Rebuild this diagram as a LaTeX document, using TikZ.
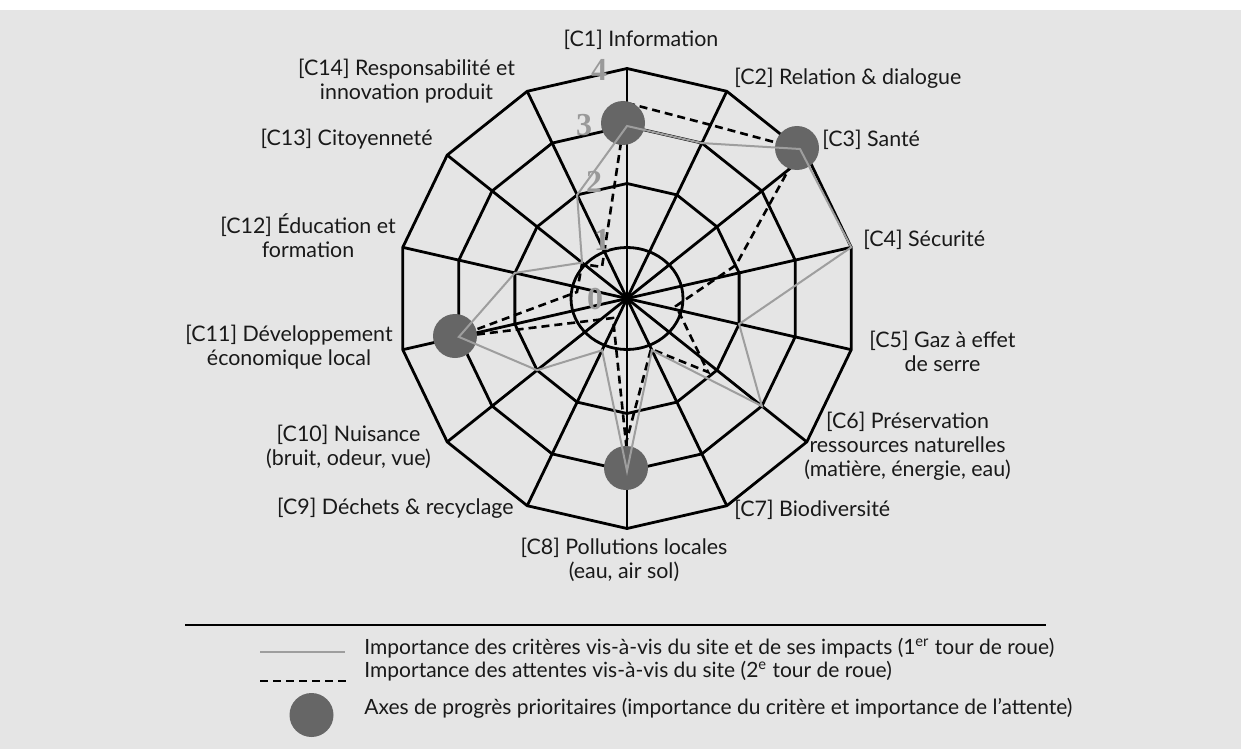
\documentclass[tikz,border=0pt]{standalone}
\usepackage{fontspec}
\setmainfont{Lato}
\newfontfamily\numfont{Liberation Serif}
\usetikzlibrary{calc}
\definecolor{bgcol}{gray}{0.9}
\definecolor{seriecol}{gray}{0.62}
\definecolor{dotcol}{gray}{0.4}
\definecolor{numcol}{gray}{0.6}
\definecolor{txtcol}{gray}{0.1}
\tikzset{
  gridline/.style={line width=1.4pt, black, line join=miter},
  serieline/.style={line width=1pt, seriecol, line join=miter},
  attenteline/.style={line width=1.3pt, black, dash pattern=on 4pt off 2.5pt},
  prio/.style={circle, fill=dotcol, inner sep=0pt, minimum size=22pt},
  lbl/.style={font=\fontsize{10.7pt}{12pt}\selectfont, text=txtcol, inner sep=0pt, align=center},
  leg/.style={font=\fontsize{10.5pt}{12pt}\selectfont, text=txtcol, inner sep=0pt, anchor=west},
  numlbl/.style={font=\numfont\bfseries\fontsize{16pt}{16pt}\selectfont, text=numcol, inner sep=0pt}
}
\begin{document}
\begin{tikzpicture}[x=0.5pt,y=-0.5pt]
\fill[white] (0,0) rectangle (1241,749);
\fill[bgcol] (0,10) rectangle (1241,749);
\useasboundingbox (0,0) rectangle (1241,749);
\coordinate (O) at (627,298.5);
% grid vertices
\foreach \k in {1,...,14}{
  \pgfmathsetmacro\a{(\k-1)*360/14-90}
  \coordinate (v2-\k) at ($(O)+(\a:115)$);
  \coordinate (v3-\k) at ($(O)+(\a:172.5)$);
  \coordinate (v4-\k) at ($(O)+(\a:230)$);
}
\foreach \r in {2,3,4}{
  \draw[gridline] (v\r-1) -- (v\r-2) -- (v\r-3) -- (v\r-4) -- (v\r-5) -- (v\r-6) -- (v\r-7) -- (v\r-8) -- (v\r-9) -- (v\r-10) -- (v\r-11) -- (v\r-12) -- (v\r-13) -- (v\r-14) -- cycle;
}
\draw[gridline] (O) ellipse [x radius=28pt, y radius=25.5pt];
\foreach \k in {1,...,14}{ \draw[gridline] (O) -- (v4-\k); }
% second round (dashed)
\coordinate (d1) at (627,103);
\coordinate (d2) at (711,125);
\coordinate (d3) at (800,149);
\coordinate (d4) at (736,265);
\coordinate (d5) at (676,306);
\coordinate (d6) at (708,372);
\coordinate (d7) at (651,349);
\coordinate (d8) at (626,443);
\coordinate (d9) at (613,318);
\coordinate (d11) at (456,337);
\coordinate (d12) at (577,292);
\coordinate (d13) at (582,264);
\coordinate (d14) at (602,267);
\draw[attenteline] (d1) -- (d2) -- (d3) -- (d4) -- (d5) -- (d6) -- (d7) -- (d8) -- (d9) -- (d11) -- (d12) -- (d13) -- (d14) -- cycle;
% priority circles
\node[prio] (p1) at (623,123) {};
\node[prio] (p3) at (797,148) {};
\node[prio] (p8) at (626,468) {};
\node[prio] (p11) at (455,336) {};
% first round (grey)
\foreach \k/\v in {1/3,2/3,3/4,4/4,5/2,6/3,7/1,8/3,9/1,10/2,11/3,12/2,13/1,14/2}{
  \pgfmathsetmacro\a{(\k-1)*360/14-90}
  \coordinate (g\k) at ($(O)+(\a:\v*57.5)$);
}
\coordinate (g3) at (800,149);
\draw[serieline] (g1) -- (g2) -- (g3) -- (g4) -- (g5) -- (g6) -- (g7) -- (g8) -- (g9) -- (g10) -- (g11) -- (g12) -- (g13) -- (g14) -- cycle;
% scale numbers
\node[numlbl] (n4) at (599,70) {4};
\node[numlbl] (n3) at (584,125) {3};
\node[numlbl] (n2) at (594,182) {2};
\node[numlbl] (n1) at (602,240) {1};
\node[numlbl] (n0) at (595,299) {0};
% labels
\node[lbl] (l1) at (641,40) {[C1] Information};
\node[lbl, anchor=west] (l2) at (734,78) {[C2] Relation \& dialogue};
\node[lbl, anchor=west] (l3) at (822,140) {[C3] Santé};
\node[lbl, anchor=west] (l4) at (863,240) {[C4] Sécurité};
\node[lbl] (l5) at (942.5,351) {[C5] Gaz à effet\\de serre};
\node[lbl] (l6) at (907.5,446.7) {[C6] Préservation\\ressources naturelles\\(matière, énergie, eau)};
\node[lbl, anchor=west] (l7) at (734,510) {[C7] Biodiversité};
\node[lbl] (l8) at (624,560) {[C8] Pollutions locales\\(eau, air sol)};
\node[lbl, anchor=east] (l9) at (514,508.3) {[C9] Déchets \& recyclage};
\node[lbl] (l10) at (348.5,447) {[C10] Nuisance\\(bruit, odeur, vue)};
\node[lbl] (l11) at (289,347.5) {[C11] Développement\\économique local};
\node[lbl] (l12) at (308,236) {[C12] Éducation et\\formation};
\node[lbl, anchor=east] (l13) at (433,139.3) {[C13] Citoyenneté};
\node[lbl] (l14) at (406.5,81.5) {[C14] Responsabilité et\\innovation produit};
% legend
\coordinate (la) at (185,625);
\coordinate (lb) at (1046,625);
\draw[gridline] (la) -- (lb);
\coordinate (sa1) at (260,652);
\coordinate (sb1) at (345,652);
\draw[serieline] (sa1) -- (sb1);
\coordinate (sa2) at (260,681);
\coordinate (sb2) at (347,681);
\draw[attenteline] (sa2) -- (sb2);
\node[prio] (sp) at (311.5,715) {};
\node[leg] (t1) at (364,648) {Importance des critères vis-à-vis du site et de ses impacts (1\textsuperscript{er} tour de roue)};
\node[leg] (t2) at (364,671) {Importance des attentes vis-à-vis du site (2\textsuperscript{e} tour de roue)};
\node[leg] (t3) at (364,708) {Axes de progrès prioritaires (importance du critère et importance de l’attente)};
\end{tikzpicture}
\end{document}
